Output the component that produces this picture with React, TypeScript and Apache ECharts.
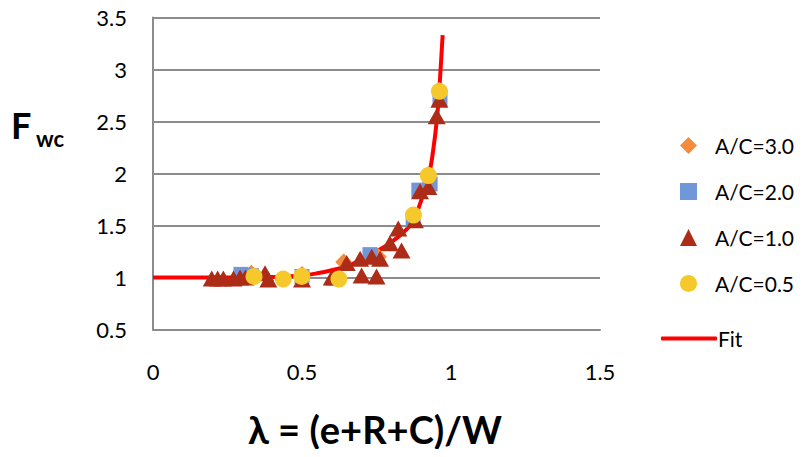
import React, { useEffect, useRef } from "react";
import * as echarts from "echarts";

const xTicks = [0, 0.5, 1, 1.5];
const yTicks = [0.5, 1, 1.5, 2, 2.5, 3, 3.5];

const markerNames = ["A/C=3.0", "A/C=2.0", "A/C=1.0", "A/C=0.5"];
const fitName = "Fit";

const ac30: number[][] = [
  [0.33, 1.04], [0.5, 1.03], [0.64, 1.15], [0.756, 1.2], [0.924, 1.99], [0.961, 2.8],
];
const ac20: number[][] = [
  [0.295, 1.03], [0.33, 1.02], [0.5, 1.01], [0.728, 1.22], [0.873, 1.55],
  [0.892, 1.84], [0.93, 1.9], [0.963, 2.72],
];
const ac10: number[][] = [
  [0.197, 0.99], [0.217, 0.99], [0.236, 0.99], [0.27, 0.99], [0.292, 1.0],
  [0.31, 1.0], [0.376, 1.04], [0.387, 0.98], [0.5, 0.98], [0.6, 1.0],
  [0.611, 1.0], [0.65, 1.14], [0.695, 1.18], [0.7, 1.02], [0.734, 1.2],
  [0.75, 1.01], [0.762, 1.18], [0.795, 1.33], [0.823, 1.47], [0.834, 1.26],
  [0.879, 1.55], [0.896, 1.83], [0.924, 1.87], [0.952, 2.55], [0.961, 2.71],
];
const ac05: number[][] = [
  [0.339, 1.01], [0.437, 0.985], [0.499, 1.01], [0.624, 0.985],
  [0.874, 1.6], [0.924, 1.98], [0.961, 2.79],
];
const fitX = [0, 0.1, 0.2, 0.3, 0.4, 0.45, 0.5, 0.55, 0.6, 0.65, 0.7, 0.75, 0.8, 0.85, 0.875, 0.89, 0.91, 0.927, 0.94, 0.952, 0.96, 0.965, 0.972];
const fitY = [1.0, 1.0, 1.0, 1.0, 1.005, 1.01, 1.02, 1.04, 1.07, 1.11, 1.17, 1.25, 1.34, 1.46, 1.56, 1.66, 1.83, 2.0, 2.22, 2.5, 2.78, 3.0, 3.33];

const FONT = "Lato, 'Open Sans', sans-serif";

export default function App() {
  const ref = useRef<HTMLDivElement>(null);
  useEffect(() => {
    if (!ref.current) return;
    const chart = echarts.init(ref.current, undefined, { renderer: "svg" });
    const gridColor = "#8c8c8c";
    chart.setOption({
      animation: false,
      backgroundColor: "#ffffff",
      textStyle: { fontFamily: FONT },
      grid: { left: 153, top: 17.5, right: 204, bottom: 127.5, containLabel: false },
      xAxis: {
        type: "value",
        min: xTicks[0],
        max: xTicks[xTicks.length - 1],
        interval: 0.5,
        axisLine: { show: true, onZero: false, lineStyle: { color: gridColor, width: 2 } },
        axisTick: { show: false },
        splitLine: { show: false },
        axisLabel: { color: "#000", fontSize: 22, fontFamily: FONT, margin: 31 },
      },
      yAxis: {
        type: "value",
        min: yTicks[0],
        max: yTicks[yTicks.length - 1],
        interval: 0.5,
        axisLine: { show: true, lineStyle: { color: gridColor, width: 2 } },
        axisTick: { show: false },
        splitLine: { show: true, lineStyle: { color: gridColor, width: 2 } },
        axisLabel: { color: "#000", fontSize: 22, fontFamily: FONT, margin: 26 },
      },
      legend: [
        {
          orient: "vertical",
          left: 675,
          top: 130,
          itemWidth: 17,
          itemHeight: 17,
          itemGap: 25,
          data: markerNames,
          textStyle: { color: "#000", fontSize: 21, fontFamily: FONT, padding: [0, 0, 0, 13] },
        },
        {
          orient: "vertical",
          left: 656,
          top: 323,
          itemWidth: 56,
          itemHeight: 4,
          data: [{ name: fitName, icon: "roundRect" }],
          textStyle: { color: "#000", fontSize: 21, fontFamily: FONT, padding: [0, 0, 0, -4] },
        },
      ],
      graphic: [
        {
          type: "text",
          left: 11,
          top: 107,
          style: { text: "F", fontSize: 36, fontWeight: "bold", fontFamily: FONT, fill: "#000" },
        },
        {
          type: "text",
          left: 36,
          top: 127,
          style: { text: "wc", fontSize: 22, fontWeight: "bold", fontFamily: FONT, fill: "#000" },
        },
        {
          type: "text",
          left: 248,
          top: 410,
          style: { text: "λ = (e+R+C)/W", fontSize: 38, fontWeight: "bold", fontFamily: FONT, fill: "#000" },
        },
      ],
      series: [
        {
          name: fitName,
          type: "line",
          data: fitX.map((x, i) => [x, fitY[i]]),
          smooth: true,
          symbol: "none",
          z: 1,
          lineStyle: { color: "#ff0000", width: 4 },
          itemStyle: { color: "#ff0000" },
        },
        {
          name: markerNames[0],
          type: "scatter",
          data: ac30,
          symbol: "diamond",
          symbolSize: 17,
          z: 2,
          itemStyle: { color: "#f58b3c", opacity: 1 },
        },
        {
          name: markerNames[1],
          type: "scatter",
          data: ac20,
          symbol: "rect",
          symbolSize: 15,
          z: 3,
          itemStyle: { color: "#7297d8", opacity: 1 },
        },
        {
          name: markerNames[2],
          type: "scatter",
          data: ac10,
          symbol: "triangle",
          symbolSize: [18, 16],
          z: 4,
          itemStyle: { color: "#ac2c17", opacity: 1 },
        },
        {
          name: markerNames[3],
          type: "scatter",
          data: ac05,
          symbol: "circle",
          symbolSize: 17,
          z: 5,
          itemStyle: { color: "#f5c92c", opacity: 1 },
        },
      ],
    });
    return () => chart.dispose();
  }, []);
  return <div ref={ref} style={{ width: 804, height: 457, margin: -8 }} />;
}
